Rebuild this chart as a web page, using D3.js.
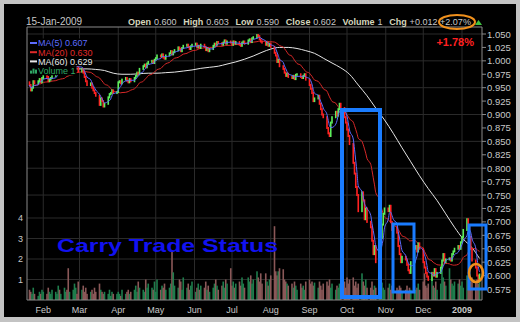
<!DOCTYPE html>
<html>
<head>
<meta charset="utf-8">
<script src="https://cdn.jsdelivr.net/npm/d3@7"></script>
<style>
  body { margin: 0; background: #c3c3c3; }
  svg { display: block; font-family: "Liberation Sans", Arial, sans-serif; }
</style>
</head>
<body>
<svg id="chart" width="520" height="322"></svg>
<script>
// daily closes, one row per week (Jan 21 2008 .. Jan 15 2009)
const closes = [
  0.955, 0.945, 0.950, 0.962, 0.958,
  0.962, 0.966, 0.960, 0.968, 0.972,
  0.970, 0.962, 0.965, 0.968, 0.972,
  0.975, 0.978, 0.980, 0.976, 0.978,
  0.982, 0.985, 0.980, 0.975, 0.983,
  0.988, 0.992, 0.995, 0.990, 0.980,
  0.985, 0.978, 0.970, 0.962, 0.955,
  0.958, 0.950, 0.945, 0.940, 0.935,
  0.918, 0.930, 0.925, 0.915, 0.920,
  0.932, 0.938, 0.940, 0.945, 0.940,
  0.942, 0.960, 0.962, 0.958, 0.965,
  0.968, 0.963, 0.960, 0.966, 0.962,
  0.968, 0.972, 0.978, 0.975, 0.985,
  0.990, 0.993, 0.988, 0.995, 0.998,
  1.000, 0.996, 1.002, 1.005, 1.010,
  1.008, 1.012, 1.006, 1.004, 1.010,
  1.014, 1.018, 1.012, 1.016, 1.020,
  1.025, 1.022, 1.018, 1.024, 1.028,
  1.030, 1.026, 1.022, 1.027, 1.030,
  1.032, 1.025, 1.028, 1.024, 1.030,
  1.026, 1.020, 1.024, 1.018, 1.022,
  1.028, 1.032, 1.030, 1.035, 1.033,
  1.030, 1.034, 1.038, 1.032, 1.036,
  1.034, 1.030, 1.036, 1.032, 1.035,
  1.030, 1.028, 1.034, 1.036, 1.032,
  1.038, 1.040, 1.035, 1.042, 1.044,
  1.048, 1.046, 1.040, 1.036, 1.034,
  1.030, 1.034, 1.028, 1.032, 1.026,
  1.015, 1.010, 0.998, 1.002, 0.990,
  0.985, 0.978, 0.972, 0.976, 0.970,
  0.968, 0.972, 0.966, 0.974, 0.975,
  0.970, 0.968, 0.972, 0.975, 0.965,
  0.955, 0.948, 0.940, 0.925, 0.930,
  0.935, 0.920, 0.910, 0.900, 0.895,
  0.875, 0.865, 0.860, 0.885, 0.895,
  0.905, 0.898, 0.910, 0.920, 0.912,
  0.895, 0.885, 0.872, 0.860, 0.845,
  0.810, 0.790, 0.765, 0.750, 0.720,
  0.755, 0.740, 0.705, 0.725, 0.700,
  0.690, 0.665, 0.640, 0.655, 0.625,
  0.640, 0.670, 0.695, 0.715, 0.725,
  0.720, 0.730, 0.700, 0.685, 0.690,
  0.680, 0.655, 0.640, 0.625, 0.635,
  0.630, 0.620, 0.610, 0.605, 0.625,
  0.650, 0.655, 0.645, 0.660, 0.650,
  0.625, 0.615, 0.605, 0.598, 0.592,
  0.605, 0.600, 0.612, 0.598, 0.605,
  0.615, 0.628, 0.640, 0.625, 0.630,
  0.632, 0.628, 0.640, 0.645, 0.650,
  0.655, 0.650, 0.662, 0.672, 0.685,
  0.705, 0.690, 0.672, 0.650, 0.628,
  0.615, 0.600, 0.590, 0.602,
];

// daily volume, same layout
const volumes = [
  0.5, 0.4, 0.3, 0.6, 0.3,
  0.2, 0.4, 0.3, 0.5, 0.4,
  0.3, 0.6, 0.4, 0.3, 0.5,
  0.4, 0.3, 0.7, 0.5, 0.3,
  0.6, 0.4, 0.5, 1.55, 0.4,
  0.5, 0.8, 0.6, 0.3, 0.9,
  0.5, 0.7, 0.4, 0.6, 0.3,
  0.4, 0.5, 0.3, 0.6, 0.4,
  0.8, 0.5, 0.4, 0.3, 0.4,
  0.3, 0.5, 0.2, 0.4, 0.3,
  0.3, 0.4, 0.3, 0.2, 0.5,
  0.3, 0.4, 0.5, 0.3, 0.4,
  0.5, 0.7, 0.4, 0.9, 0.6,
  0.5, 0.4, 1.0, 0.6, 0.8,
  0.6, 0.5, 0.9, 0.4, 1.0,
  0.5, 0.7, 0.6, 0.8, 0.5,
  0.6, 0.8, 2.35, 1.35, 0.7,
  0.6, 1.0, 0.9, 0.5, 1.1,
  0.6, 0.8, 0.5, 0.7, 0.9,
  0.4, 0.6, 0.8, 0.5, 0.7,
  0.6, 0.9, 0.5, 0.7, 0.4,
  0.6, 0.8, 1.0, 0.7, 0.5,
  0.7, 0.9, 0.6, 1.0, 0.8,
  1.55, 0.7, 0.9, 0.6, 0.8,
  0.9, 0.7, 1.1, 0.8, 0.6,
  1.1, 0.9, 1.2, 0.8, 1.0,
  1.4, 1.1, 0.9, 1.3, 0.8,
  1.3, 0.9, 0.7, 1.0, 1.2,
  3.6, 1.4, 1.2, 1.4, 1.55,
  1.5, 1.0, 0.9, 0.8, 0.7,
  0.8, 0.6, 0.9, 0.7, 0.5,
  0.8, 0.6, 0.7, 0.5, 0.9,
  1.0, 0.8, 0.9, 0.7, 0.85,
  0.6, 0.9, 0.7, 0.5, 0.8,
  0.9, 0.7, 1.0, 0.6, 0.8,
  0.5, 0.7, 0.6, 0.8, 0.5,
  0.9, 0.6, 1.1, 0.8, 1.0,
  1.1, 0.7, 0.9, 0.6, 0.8,
  1.3, 0.9, 0.7, 1.0, 0.6,
  0.6, 0.9, 0.5, 0.7, 0.6,
  0.5, 0.7, 0.85, 0.6, 0.5,
  0.6, 0.8, 0.5, 0.7, 0.4,
  0.6, 0.5, 0.7, 0.6, 0.4,
  0.5, 0.7, 0.4, 0.6, 0.5,
  0.7, 0.5, 0.6, 0.8, 0.5,
  0.9, 1.3, 0.7, 0.6, 0.8,
  1.0, 0.7, 0.6, 0.9, 0.5,
  0.8, 1.6, 1.1, 0.9, 0.7,
  1.55, 1.0, 0.8, 0.7, 0.9,
  0.8, 1.0, 0.7, 0.9, 0.6,
  1.2, 1.0, 1.2, 0.9, 1.1,
  0.9, 1.0, 0.8, 1.0,
];

// MA(60), one value per week (last day of each week)
const ma60Weekly = [
  0.985, 0.985, 0.985, 0.985, 0.985, 0.985, 0.985, 0.984, 0.982, 0.977,
  0.975, 0.975, 0.976, 0.977, 0.977, 0.978, 0.979, 0.981, 0.983, 0.986,
  0.988, 0.990, 0.994, 0.998, 1.003, 1.009, 1.016, 1.022, 1.025, 1.025,
  1.023, 1.019, 1.014, 1.005, 0.996, 0.987, 0.975, 0.955, 0.935, 0.912,
  0.890, 0.865, 0.838, 0.812, 0.786, 0.762, 0.740, 0.715, 0.690, 0.668,
  0.652, 0.632,
];

const priceTicks = d3.range(0, 20).map((i) => +(0.575 + i * 0.025).toFixed(3));
const priceGrid = [1.05, 1.0, 0.95, 0.9, 0.85, 0.8, 0.75];
const volumeTicks = [1, 2, 3, 4];
const monthTicks = [
  ["Feb", new Date(2008, 1, 1)], ["Mar", new Date(2008, 2, 1)],
  ["Apr", new Date(2008, 3, 1)], ["May", new Date(2008, 4, 1)],
  ["Jun", new Date(2008, 5, 1)], ["Jul", new Date(2008, 6, 1)],
  ["Aug", new Date(2008, 7, 1)], ["Sep", new Date(2008, 8, 1)],
  ["Oct", new Date(2008, 9, 1)], ["Nov", new Date(2008, 10, 1)],
  ["Dec", new Date(2008, 11, 1)], ["2009", new Date(2009, 0, 1)],
];
const legendItems = [
  ["MA(5) 0.607", "#5d6cff"],
  ["MA(20) 0.630", "#e02a2a"],
  ["MA(60) 0.629", "#e8e8e8"],
  ["Volume 1", "#2fa765"],
];
// header label / value pairs
const headerLabels = ["Open", "High", "Low", "Close", "Volume", "Chg"];
const headerValues = ["0.600", "0.603", "0.590", "0.602", "1", "+0.012 +2.07%"];

// trading days (weekdays only)
const days = d3.timeDay
  .range(new Date(2008, 0, 21), new Date(2009, 0, 16))
  .filter((d) => d.getDay() !== 0 && d.getDay() !== 6)
  .slice(0, closes.length);

const bars = days.map((d, i) => ({
  date: d,
  open: i === 0 ? closes[0] + 0.005 : closes[i - 1],
  close: closes[i],
  volume: volumes[i],
}));

// simple moving average over the closes
function movingAvg(n) {
  return bars.map((b, i) => {
    const w = closes.slice(Math.max(0, i - n + 1), i + 1);
    return { date: b.date, value: d3.mean(w) };
  });
}

// weekly points for MA(60): last trading day of each week
const weekEnds = d3.groups(bars, (b) => d3.timeMonday.floor(b.date)).map((g) => g[1][g[1].length - 1].date);
const ma60 = weekEnds.map((d, i) => ({ date: d, value: ma60Weekly[i] }));

const svg = d3.select("#chart");
const x = d3.scaleTime().domain([new Date(2008, 0, 19), new Date(2009, 0, 17)]).range([27, 482]);
const y = d3.scaleLinear().domain([0.575, 1.05]).range([289, 34]);
const yVol = d3.scaleLinear().domain([0, 4]).range([300, 218]);

// black panel inside grey frame
svg.append("rect").attr("x", 4).attr("y", 4).attr("width", 512).attr("height", 313).attr("fill", "#000");

// grid
svg.append("g").selectAll("line").data(priceGrid).join("line")
  .attr("x1", 27).attr("x2", 482).attr("y1", (d) => y(d)).attr("y2", (d) => y(d))
  .attr("stroke", "#2b2b2b");
svg.append("g").selectAll("line").data(volumeTicks).join("line")
  .attr("x1", 27).attr("x2", 482).attr("y1", (d) => yVol(d)).attr("y2", (d) => yVol(d))
  .attr("stroke", "#2b2b2b");
svg.append("g").selectAll("line").data(monthTicks).join("line")
  .attr("x1", (d) => x(d[1])).attr("x2", (d) => x(d[1])).attr("y1", 27).attr("y2", 300)
  .attr("stroke", "#2b2b2b");

// volume bars
svg.append("g").selectAll("rect").data(bars).join("rect")
  .attr("x", (d) => x(d.date) - 0.8)
  .attr("width", 1.6)
  .attr("y", (d) => yVol(d.volume))
  .attr("height", (d) => 300 - yVol(d.volume))
  .attr("fill", (d) => (d.close >= d.open ? "#1f7d4c" : "#8a5858"));

// moving averages
const line = d3.line().x((d) => x(d.date)).y((d) => y(d.value)).curve(d3.curveMonotoneX);
svg.append("path").datum(ma60).attr("d", line).attr("fill", "none").attr("stroke", "#e6e6e6").attr("stroke-width", 1);
svg.append("path").datum(movingAvg(20)).attr("d", line).attr("fill", "none").attr("stroke", "#d82828").attr("stroke-width", 1);

// candles
svg.append("g").selectAll("rect").data(bars).join("rect")
  .attr("x", (d) => x(d.date) - 0.8)
  .attr("width", 1.6)
  .attr("y", (d) => y(Math.max(d.open, d.close)) - 1)
  .attr("height", (d) => Math.abs(y(d.open) - y(d.close)) + 2)
  .attr("fill", (d) => (d.close >= d.open ? "#5cf05c" : "#ff2222"));

svg.append("path").datum(movingAvg(5)).attr("d", line).attr("fill", "none").attr("stroke", "#5d6cff").attr("stroke-width", 1);

// frame lines
svg.append("path").attr("d", "M27,300V27H482V300H27").attr("fill", "none").attr("stroke", "#8a8a8a");

// price axis on the right
const pAxis = svg.append("g");
pAxis.selectAll("line").data(priceTicks).join("line")
  .attr("x1", 482).attr("x2", 486).attr("y1", (d) => y(d)).attr("y2", (d) => y(d)).attr("stroke", "#8a8a8a");
pAxis.selectAll("text").data(priceTicks).join("text")
  .attr("x", 487).attr("y", (d) => y(d) + 3.5)
  .attr("font-size", 9.5).attr("fill", "#c8c8c8")
  .text((d) => d3.format(".3f")(d));

// volume axis on the left
svg.append("g").selectAll("text").data(volumeTicks).join("text")
  .attr("x", 23).attr("y", (d) => yVol(d) + 3).attr("text-anchor", "end")
  .attr("font-size", 9).attr("fill", "#c8c8c8").text((d) => d);

// month labels
svg.append("g").selectAll("text").data(monthTicks).join("text")
  .attr("x", (d) => x(d[1])).attr("y", 313).attr("text-anchor", "middle")
  .attr("font-size", 9).attr("fill", "#c8c8c8")
  .attr("font-weight", (d) => (d[0] === "2009" ? "bold" : "normal"))
  .text((d) => d[0]);

// header: lay the pairs out one after another, measuring each piece
svg.append("text").attr("x", 26).attr("y", 25).attr("font-size", 10).attr("fill", "#c8c8c8").text("15-Jan-2009");
const headG = svg.append("g");
let hx = 128;
headerLabels.forEach((k, i) => {
  const lab = headG.append("text").attr("x", hx).attr("y", 25).attr("font-size", 9.5)
    .attr("font-weight", "bold").attr("fill", "#d6d6bc").text(k);
  hx += lab.node().getComputedTextLength() + 3;
  const val = headG.append("text").attr("x", hx).attr("y", 25).attr("font-size", 9.5)
    .attr("fill", "#c8c8c8").text(headerValues[i]);
  hx += val.node().getComputedTextLength() + 7;
});
// squeeze or stretch the header so it ends where the reference does
const headScale = (471 - 128) / (hx - 7 - 128);
headG.attr("transform", `translate(128,0) scale(${headScale},1) translate(-128,0)`);

svg.append("path").attr("d", "M475,25L478.5,20L482,25Z").attr("fill", "#3fc23f");
svg.append("text").attr("x", 474).attr("y", 46).attr("text-anchor", "end")
  .attr("font-size", 11).attr("font-weight", "bold").attr("fill", "#ff2020").text("+1.78%");

// legend: each row sits on its own black backing, sized to the text
const leg = svg.append("g").selectAll("g").data(legendItems).join("g")
  .attr("transform", (d, i) => `translate(30,${43 + i * 9.2})`);
const legBack = leg.append("rect").attr("x", -2).attr("y", -4.5).attr("height", 9.2).attr("fill", "#000");
leg.filter((d, i) => i < 3).append("line").attr("x1", 0).attr("x2", 7).attr("stroke", (d) => d[1]).attr("stroke-width", 2);
leg.filter((d, i) => i === 3).selectAll("rect.icon").data([3, 5, 4]).join("rect")
  .attr("class", "icon")
  .attr("x", (d, i) => i * 2.5).attr("y", (d) => 3 - d).attr("width", 2).attr("height", (d) => d).attr("fill", "#2fa765");
const legText = leg.append("text").attr("x", 8).attr("y", 3.3).attr("font-size", 9)
  .attr("fill", (d) => d[1]).text((d) => d[0]);
legBack.attr("width", (d, i) => legText.nodes()[i].getComputedTextLength() + 11);

// annotations
svg.append("text").attr("x", 57).attr("y", 252).attr("font-size", 19).attr("font-weight", 900)
  .attr("textLength", 221).attr("lengthAdjust", "spacingAndGlyphs")
  .attr("fill", "#1212f0").text("Carry Trade Status");
const boxes = [[342, 110, 380, 297, 4], [393, 224, 414, 292, 3], [469, 225, 486, 289, 3]];
svg.append("g").selectAll("rect").data(boxes).join("rect")
  .attr("x", (d) => d[0]).attr("y", (d) => d[1])
  .attr("width", (d) => d[2] - d[0]).attr("height", (d) => d[3] - d[1])
  .attr("fill", "none").attr("stroke", "#1a7cff").attr("stroke-width", (d) => d[4]);
svg.append("ellipse").attr("cx", 476).attr("cy", 273).attr("rx", 7).attr("ry", 9)
  .attr("fill", "none").attr("stroke", "#f0901c").attr("stroke-width", 2.5);
svg.append("ellipse").attr("cx", 457).attr("cy", 22).attr("rx", 18).attr("ry", 7)
  .attr("fill", "none").attr("stroke", "#f0901c").attr("stroke-width", 2);
</script>
</body>
</html>
